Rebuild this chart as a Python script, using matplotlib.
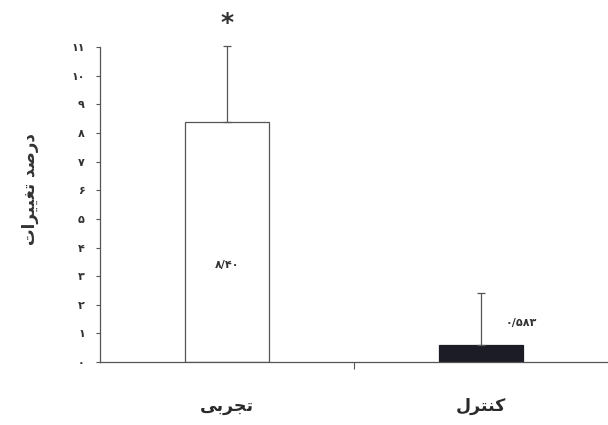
import numpy as np
import matplotlib.pyplot as plt

# Persian text is written in presentation forms, in visual (left-to-right) order
groups = ['\uFEF0\uFE91\uFEAE\uFEA0\uFE97',          # تجربی
          '\uFEDD\uFEAE\uFE98\uFEE8\uFEDB']          # کنترل
means = [8.40, 0.583]
errors = [2.65, 1.83]
value_labels = ['\u06F8/\u06F4\u06F0', '\u06F0/\u06F5\u06F8\u06F3']
ylabel = '\uFE95\uFE8D\uFEAE\uFEF4\uFEF4\uFED0\uFE97 \uFEAA\uFEBB\uFEAD\uFEA9'  # درصد تغییرات
persian_digits = '۰۱۲۳۴۵۶۷۸۹'
yticks = list(range(0, 12))

def fa(n):
    return ''.join(persian_digits[int(c)] for c in str(n))

fig = plt.figure(figsize=(6.08, 4.25), dpi=100)
ax = fig.add_axes([0.1645, 0.148, 0.8355, 0.741])

x = np.arange(len(groups))
line_col = '#555555'
ax.bar(x, means, width=0.33, color=['white', '#1c1c26'], edgecolor=[line_col, '#1c1c26'],
       linewidth=0.9, zorder=2)
ax.errorbar(x, means, yerr=[[0, 0], errors], fmt='none', ecolor=line_col,
            elinewidth=0.9, capsize=3, capthick=0.9, zorder=3, clip_on=False)

ax.set_xlim(-0.5, 1.5)
ax.set_ylim(0, 11)
ax.set_yticks(yticks)
ax.set_yticklabels([fa(t) for t in yticks], family='DejaVu Sans', fontweight='bold',
                   fontsize=8, color='#333333')
ax.set_xticks([0.5])
ax.set_xticklabels([''])
ax.tick_params(axis='y', length=3, color=line_col, pad=8)
ax.tick_params(axis='x', length=5, color=line_col)

for s in ['top', 'right']:
    ax.spines[s].set_visible(False)
for s in ['left', 'bottom']:
    ax.spines[s].set_color(line_col)
    ax.spines[s].set_linewidth(0.9)

for i, g in enumerate(groups):
    ax.text(x[i], -1.55, g, ha='center', va='center', family='DejaVu Sans',
            fontweight='bold', fontsize=12.5, color='#2a2a2a')

ax.text(0, 3.4, value_labels[0], ha='center', va='center', family='DejaVu Sans',
        fontweight='bold', fontsize=8, color='#333333')
ax.text(1.16, 1.35, value_labels[1], ha='center', va='center', family='DejaVu Sans',
        fontweight='bold', fontsize=8, color='#333333')
ax.text(0, 11.85, '*', ha='center', va='center', fontsize=18, fontweight='bold',
        color='#333333', clip_on=False)

fig.text(0.05, 0.555, ylabel, rotation=90, ha='center', va='center',
         family='DejaVu Sans', fontweight='bold', fontsize=12, color='#333333')

fig.savefig('out.png', dpi=100)
